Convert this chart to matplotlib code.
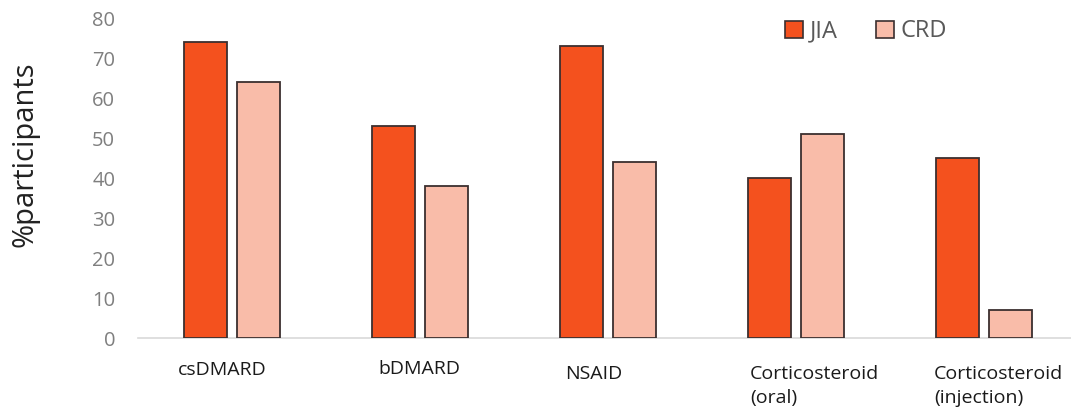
import matplotlib
matplotlib.use("Agg")
import matplotlib.pyplot as plt
import numpy as np
from matplotlib.patches import Patch

categories = ["csDMARD", "bDMARD", "NSAID", "Corticosteroid\n(oral)", "Corticosteroid\n(injection)"]
jia = [74, 53, 73, 40, 45]
crd = [64, 38, 44, 51, 7]
yticks = [0, 10, 20, 30, 40, 50, 60, 70, 80]

JIA_COL = "#F4511E"
CRD_COL = "#F9BCA9"
EDGE = "#3b2f2f"
FONT = ["Open Sans", "DejaVu Sans"]

plt.rcParams["font.family"] = FONT

fig = plt.figure(figsize=(10.71, 4.12), dpi=100)
ax = fig.add_axes([0.1289, 0.1796, 0.8711, 0.7767])

x = np.arange(len(categories))
w = 0.23
ax.bar(x - 0.142, jia, w, color=JIA_COL, edgecolor=EDGE, linewidth=1.3, zorder=3)
ax.bar(x + 0.142, crd, w, color=CRD_COL, edgecolor=EDGE, linewidth=1.3, zorder=3)

ax.set_xlim(-0.5, 4.463)
ax.set_ylim(0, 80)
ax.set_yticks(yticks)
ax.tick_params(axis="y", length=0, pad=16.5, labelsize=14.5, labelcolor="#7f7f7f")
ax.set_xticks([])
for s in ["top", "right", "left"]:
    ax.spines[s].set_visible(False)
ax.spines["bottom"].set_color("#d9d9d9")
ax.spines["bottom"].set_linewidth(1.2)

# category labels sit left-aligned under each pair, slightly staggered
offsets = [-0.287, -0.223, -0.229, -0.245, -0.266]
drops = [32, 31, 36, 48, 48]   # px below the baseline to the label's centre
for i, (lab, dx, dy) in enumerate(zip(categories, offsets, drops)):
    ax.annotate(lab, xy=(i + dx, 0), xycoords="data",
                xytext=(0, -dy * 0.72), textcoords="offset points",
                ha="left", va="center", fontsize=14, color="#1a1a1a",
                linespacing=1.4)

fig.text(0.0233, 0.626, "%participants", rotation=90, ha="center", va="center",
         fontsize=21, color="#222222")

handles = [Patch(facecolor=JIA_COL, edgecolor=EDGE, linewidth=1.2, label="JIA"),
           Patch(facecolor=CRD_COL, edgecolor=EDGE, linewidth=1.2, label="CRD")]
leg = ax.legend(handles=handles, loc="upper left", bbox_to_anchor=(0.671, 1.062),
                ncol=2, frameon=False, fontsize=17, handlelength=0.75,
                handleheight=0.75, handletextpad=0.3, columnspacing=1.6)
for t in leg.get_texts():
    t.set_color("#595959")

fig.savefig("out.png", dpi=100)
